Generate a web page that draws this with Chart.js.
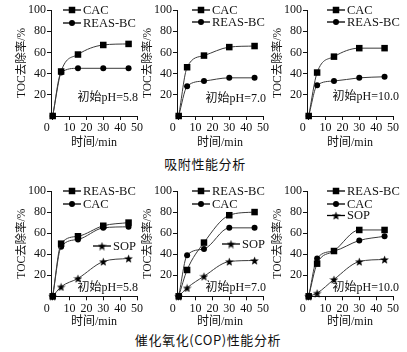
<!DOCTYPE html>
<html><head><meta charset="utf-8">
<script src="https://cdn.jsdelivr.net/npm/chart.js@4.4.0/dist/chart.umd.min.js"></script>
<style>
html,body{margin:0;padding:0;background:#fff;width:407px;height:352px;overflow:hidden;}
canvas{position:absolute;}
.cap{position:absolute;font-family:'Noto Sans CJK SC',sans-serif;font-size:13px;color:#111;white-space:nowrap;transform:translate(-50%,-50%);letter-spacing:0.6px;}
</style></head><body>
<div class="cap" style="left:205px;top:163px">吸附性能分析</div>
<div class="cap" style="left:208px;top:339px">催化氧化(COP)性能分析</div>
<script>
// ---- data ----
const times = [0, 5, 15, 30, 45];
const xTicks = [0, 10, 20, 30, 40, 50];
const yTicks = [20, 40, 60, 80, 100];
const xTitle = '时间/min';
const yTitle = 'TOC去除率/%';

const ads58_CAC  = [0, 42, 58, 67, 68];
const ads58_REAS = [0, 41, 45, 45, 45];
const ads70_CAC  = [0, 46, 57, 65, 66];
const ads70_REAS = [0, 28, 33, 36, 36];
const ads100_CAC  = [0, 41, 56, 64, 64];
const ads100_REAS = [0, 29, 33, 36, 37];

const cop58_REAS = [0, 50, 57, 67, 70];
const cop58_CAC  = [0, 47, 54, 65, 66];
const cop58_SOP  = [0, 9, 17, 33, 36];
const cop70_REAS = [0, 25, 51, 77, 80];
const cop70_CAC  = [0, 39, 45, 65, 65];
const cop70_SOP  = [0, 8, 19, 33, 34];
const cop100_REAS = [0, 31, 43, 63, 63];
const cop100_CAC  = [0, 36, 43, 53, 57];
const cop100_SOP  = [0, 3, 16, 33, 35];

const notes = ['初始pH=5.8', '初始pH=7.0', '初始pH=10.0'];

// ---- rendering ----
const SERIF = "'Liberation Serif','Noto Sans CJK SC',serif";
const INK = '#111';

function makeStar(size){
  const c = document.createElement('canvas'); c.width = c.height = size;
  const g = c.getContext('2d'); g.fillStyle = '#000'; g.beginPath();
  const cx = size/2, cy = size/2 + 0.5, R = size/2, r = R*0.42;
  for (let i = 0; i < 10; i++) {
    const a = -Math.PI/2 + i*Math.PI/5, rad = i % 2 ? r : R;
    g.lineTo(cx + rad*Math.cos(a), cy + rad*Math.sin(a));
  }
  g.closePath(); g.fill(); return c;
}
const STAR = makeStar(9);

function styleFor(mk){
  if (mk === 'rect') return {pointStyle:'rect', pointRadius:4.6};
  if (mk === 'circle') return {pointStyle:'circle', pointRadius:3};
  return {pointStyle:STAR, pointRadius:4};
}
function drawMarker(ctx, mk, x, y){
  ctx.fillStyle = '#000';
  if (mk === 'rect') ctx.fillRect(x-3.25, y-3.25, 6.5, 6.5);
  else if (mk === 'circle') { ctx.beginPath(); ctx.arc(x, y, 3, 0, Math.PI*2); ctx.fill(); }
  else ctx.drawImage(STAR, x - STAR.width/2, y - STAR.height/2);
}
function series(label, vals, mk){
  return Object.assign({
    label, mk,
    data: times.map((t, i) => ({x: t, y: vals[i]})),
    borderColor: '#3a3a3a', borderWidth: 1,
    backgroundColor: '#000', pointBackgroundColor: '#000', pointBorderColor: '#000', pointBorderWidth: 0,
    cubicInterpolationMode: 'monotone', clip: false
  }, styleFor(mk));
}

const rows = [
  {top: 0,   pt: 10, pb: 9.8, hx: 34.2},
  {top: 175, pt: 16, pb: 5.8, hx: 32.9}
];
const panels = [
  {left: 0,   row: 0, note: notes[0], nx: 87, ny: 88,
   ds: [series('CAC', ads58_CAC, 'rect'), series('REAS-BC', ads58_REAS, 'circle')],
   legend: [{x: 12, y: 0}, {x: 12, y: 13}]},
  {left: 126, row: 0, note: notes[1], nx: 89, ny: 89,
   ds: [series('CAC', ads70_CAC, 'rect'), series('REAS-BC', ads70_REAS, 'circle')],
   legend: [{x: 15, y: 0}, {x: 15, y: 12}]},
  {left: 256, row: 0, note: notes[2], nx: 92, ny: 87,
   ds: [series('CAC', ads100_CAC, 'rect'), series('REAS-BC', ads100_REAS, 'circle')],
   legend: [{x: 20, y: 0}, {x: 20, y: 12}]},
  {left: 0,   row: 1, note: notes[0], nx: 87, ny: 97,
   ds: [series('REAS-BC', cop58_REAS, 'rect'), series('CAC', cop58_CAC, 'circle'), series('SOP', cop58_SOP, 'star')],
   legend: [{x: 12, y: 0}, {x: 12, y: 13}, {x: 42, y: 55}]},
  {left: 126, row: 1, note: notes[1], nx: 89, ny: 97,
   ds: [series('REAS-BC', cop70_REAS, 'rect'), series('CAC', cop70_CAC, 'circle'), series('SOP', cop70_SOP, 'star')],
   legend: [{x: 15, y: 0}, {x: 15, y: 13}, {x: 45, y: 53}]},
  {left: 256, row: 1, note: notes[2], nx: 92, ny: 97,
   ds: [series('REAS-BC', cop100_REAS, 'rect'), series('CAC', cop100_CAC, 'circle'), series('SOP', cop100_SOP, 'star')],
   legend: [{x: 20, y: 0}, {x: 20, y: 13}, {x: 20, y: 24.5}]}
];

panels.forEach(p => {
  const r = rows[p.row];
  const cv = document.createElement('canvas');
  cv.width = 150; cv.height = 160;
  cv.style.left = p.left + 'px'; cv.style.top = r.top + 'px';
  document.body.appendChild(cv);
  new Chart(cv, {
    type: 'line',
    data: {datasets: p.ds},
    options: {
      responsive: false, animation: false, devicePixelRatio: 1, events: [],
      layout: {padding: {left: 15, right: 13, top: r.pt, bottom: r.pb}},
      plugins: {legend: {display: false}, tooltip: {enabled: false}},
      scales: {
        x: {
          type: 'linear', min: -1, max: 50,
          afterBuildTicks: s => { s.ticks = xTicks.map(v => ({value: v})); },
          afterFit: s => { s.height = r.hx; },
          ticks: {callback: v => v === 0 ? '0\u2002\u2002' : String(v), autoSkip: false, maxRotation: 0,
                  padding: 1, color: INK, font: {family: SERIF, size: 12}},
          grid: {drawOnChartArea: false, drawTicks: true, tickLength: 4, color: INK, lineWidth: 1},
          border: {display: true, color: INK, width: 1},
          title: {display: true, text: xTitle, color: INK, font: {family: SERIF, size: 12}, padding: 0}
        },
        y: {
          min: 0, max: 100,
          afterBuildTicks: s => { s.ticks = yTicks.map(v => ({value: v})); },
          afterFit: s => { s.width = 36; },
          ticks: {autoSkip: false, padding: 1, color: INK, font: {family: SERIF, size: 12}},
          grid: {drawOnChartArea: false, drawTicks: true, tickLength: 4, color: INK, lineWidth: 1},
          border: {display: true, color: INK, width: 1},
          title: {display: true, text: yTitle, color: INK, font: {family: SERIF, size: 11.5}, padding: 0}
        }
      }
    },
    plugins: [{
      id: 'deco',
      afterDraw(chart) {
        const ctx = chart.ctx, a = chart.chartArea;
        ctx.save();
        ctx.textBaseline = 'middle';
        ctx.font = '12.5px ' + SERIF;
        p.legend.forEach((it, i) => {
          const ds = chart.data.datasets[i];
          const x0 = a.left + it.x, y = a.top + it.y;
          ctx.strokeStyle = '#000'; ctx.lineWidth = 1.3;
          ctx.beginPath(); ctx.moveTo(x0, y); ctx.lineTo(x0 + 18, y); ctx.stroke();
          drawMarker(ctx, ds.mk, x0 + 9, y);
          ctx.fillStyle = INK; ctx.textAlign = 'left';
          ctx.fillText(ds.label, x0 + 20, y + 0.5);
        });
        ctx.font = '12px ' + SERIF;
        ctx.fillStyle = INK; ctx.textAlign = 'right';
        ctx.fillText(p.note, a.left + p.nx, a.top + p.ny);
        ctx.restore();
      }
    }]
  });
});
</script>
</body></html>
